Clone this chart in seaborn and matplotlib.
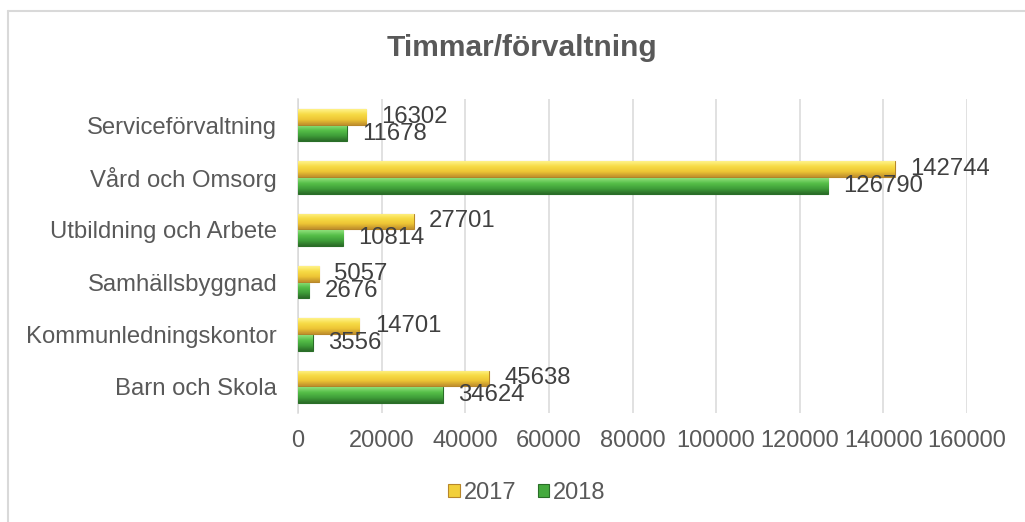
import numpy as np
import pandas as pd
import seaborn as sns
import matplotlib.pyplot as plt
from matplotlib.colors import LinearSegmentedColormap
from matplotlib.patches import Patch
from matplotlib.lines import Line2D

# data
categories = ["Serviceförvaltning", "Vård och Omsorg", "Utbildning och Arbete",
              "Samhällsbyggnad", "Kommunledningskontor", "Barn och Skola"]
years = ["2017", "2018"]
hours_2017 = [16302, 142744, 27701, 5057, 14701, 45638]
hours_2018 = [11678, 126790, 10814, 2676, 3556, 34624]
x_ticks = [0, 20000, 40000, 60000, 80000, 100000, 120000, 140000, 160000]

df = pd.DataFrame({
    "Förvaltning": categories * 2,
    "År": ["2017"] * len(categories) + ["2018"] * len(categories),
    "Timmar": hours_2017 + hours_2018,
})

base = {"2017": "#F2CF3A", "2018": "#45AA3E"}
edge = {"2017": "#B8872A", "2018": "#2A6E28"}
grad = {
    "2017": ["#FFF38A", "#F7DB45", "#EDC535", "#C08F2C"],
    "2018": ["#8FE07A", "#55BE48", "#3F9E39", "#2A6B27"],
}

sns.set_theme(style="white")
plt.rcParams["font.family"] = ["Liberation Sans", "DejaVu Sans"]

fig = plt.figure(figsize=(10.25, 5.22), dpi=100)
ax = fig.add_axes([298 / 1025, 1 - 413 / 522, (967 - 298) / 1025, (413 - 99) / 522])

sns.barplot(data=df, y="Förvaltning", x="Timmar", hue="År", order=categories,
            hue_order=years, palette=base, orient="h", width=0.64, gap=0.06,
            ax=ax, legend=False, zorder=3)

ax.set_xlim(0, 160000)
ylim = ax.get_ylim()

# beveled look: gradient clipped to each bar
for year, cont in zip(years, ax.containers):
    cmap = LinearSegmentedColormap.from_list("g" + year, grad[year])
    for bar in cont:
        bar.set_edgecolor(edge[year])
        bar.set_linewidth(0.8)
        x0, y0 = bar.get_x(), bar.get_y()
        w, h = bar.get_width(), bar.get_height()
        g = np.linspace(0, 1, 64).reshape(-1, 1)
        im = ax.imshow(g, extent=[x0, x0 + w, y0 + h, y0], aspect="auto",
                       cmap=cmap, origin="upper", zorder=3.5, interpolation="bicubic")
        im.set_clip_path(bar)
    ax.bar_label(cont, labels=[f"{int(v)}" for v in cont.datavalues], padding=11,
                 fontsize=17.2, color="#404040", zorder=5)

ax.set_ylim(ylim)
ax.set_xlim(0, 160000)
ax.set_xticks(x_ticks)
ax.set_xticklabels([str(t) for t in x_ticks])
ax.tick_params(axis="x", labelsize=17, colors="#595959", length=0, pad=12)
ax.tick_params(axis="y", labelsize=17.2, colors="#595959", length=0, pad=15)
ax.set_xlabel("")
ax.set_ylabel("")
ax.grid(axis="x", color="#D9D9D9", linewidth=1.1, zorder=0)
ax.set_axisbelow(True)
for s in ["top", "right", "bottom"]:
    ax.spines[s].set_visible(False)
ax.spines["left"].set_color("#D9D9D9")
ax.spines["left"].set_linewidth(1.1)

fig.text(522 / 1025, 1 - 48 / 522, "Timmar/förvaltning", ha="center", va="center",
         fontsize=21.5, fontweight="bold", color="#595959")

handles = [Patch(facecolor=base[y], edgecolor=edge[y], linewidth=0.8) for y in years]
fig.legend(handles, years, loc="center", bbox_to_anchor=(527 / 1025, 1 - 493 / 522),
           ncol=2, frameon=False, fontsize=17, handlelength=0.5, handleheight=0.5,
           handletextpad=0.15, columnspacing=0.9, labelcolor="#595959")

# outer chart frame (left and top edges visible)
fig.add_artist(Line2D([8 / 1025, 8 / 1025], [0, 1 - 11 / 522], transform=fig.transFigure,
                      color="#D9D9D9", linewidth=1.5))
fig.add_artist(Line2D([8 / 1025, 1], [1 - 11 / 522, 1 - 11 / 522], transform=fig.transFigure,
                      color="#D9D9D9", linewidth=1.5))

fig.savefig("out.png", dpi=100, facecolor="white")
